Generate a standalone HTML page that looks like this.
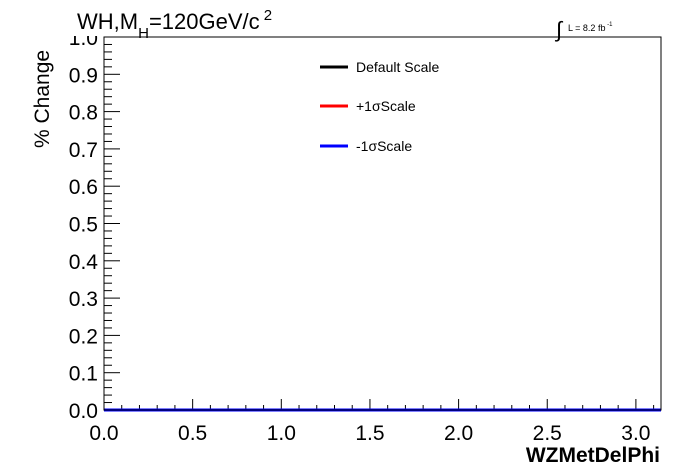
<!DOCTYPE html>
<html><head><meta charset="utf-8"><style>
body{margin:0;background:#fff;}
svg{display:block;font-family:"Liberation Sans",Arial,sans-serif;}
</style></head><body>
<svg id="c" width="696" height="472" viewBox="0 0 696 472">
<rect x="0" y="0" width="696" height="472" fill="#fff"/>
<g id="axes"></g>
<g id="series"></g>
<rect x="104" y="37" width="557" height="373" fill="none" stroke="#000" stroke-width="1"/>
<rect x="60" y="0" width="240" height="36" fill="#fff"/>
<text x="77" y="29" font-size="22">WH,M<tspan font-size="15" dy="9">H</tspan><tspan dy="-9">=120GeV/c</tspan><tspan font-size="15" dy="-9"> 2</tspan></text>
<text x="556" y="37" font-size="22">∫</text>
<text x="568" y="31" font-size="9">L = 8.2 fb<tspan font-size="6" dy="-5"> -1</tspan></text>
<text x="49" y="148" font-size="21" transform="rotate(-90 49 148)" text-anchor="start">% Change</text>
<text x="660" y="462" font-size="21" font-weight="bold" text-anchor="end">WZMetDelPhi</text>
<g>
<line x1="320" y1="67" x2="348" y2="67" stroke="#000" stroke-width="3"/>
<text x="356" y="72" font-size="14">Default Scale</text>
<line x1="320" y1="106" x2="348" y2="106" stroke="#f00" stroke-width="3"/>
<text x="356" y="111" font-size="14">+1σScale</text>
<line x1="320" y1="146" x2="348" y2="146" stroke="#00f" stroke-width="3"/>
<text x="356" y="151" font-size="14">-1σScale</text>
</g>
</svg>
<script>
const xTicks = [0.0, 0.5, 1.0, 1.5, 2.0, 2.5, 3.0];
const xTickLabels = ["0.0","0.5","1.0","1.5","2.0","2.5","3.0"];
const yTicks = [0.0,0.1,0.2,0.3,0.4,0.5,0.6,0.7,0.8,0.9,1.0];
const yTickLabels = ["0.0","0.1","0.2","0.3","0.4","0.5","0.6","0.7","0.8","0.9","1.0"];
const binEdges = [0, 3.1416];
const defaultScale = [0];
const plusScale = [0];
const minusScale = [0];
const X0=104,X1=661,Y0=410,Y1=37,XMAX=3.1416;
const sx=v=>X0+(v/XMAX)*(X1-X0);
const sy=v=>Y0-(v/1.0)*(Y0-Y1);
const NS="http://www.w3.org/2000/svg";
const axes=document.getElementById('axes');
function mk(tag,attrs,parent){const e=document.createElementNS(NS,tag);for(const k in attrs)e.setAttribute(k,attrs[k]);parent.appendChild(e);return e;}
for(let v=0;v<=XMAX+1e-9;v+=0.1){
  const major=Math.abs(v*2-Math.round(v*2))<1e-6;
  const l=mk('line',{x1:sx(v),x2:sx(v),y1:Y0,y2:Y0-(major?11:5),stroke:'#000'},axes);
  
  
}
for(let i=0;i<=50;i++){
  const v=i*0.02;const major=i%5===0;
  const l=mk('line',{x1:X0,x2:X0+(major?16:8),y1:sy(v),y2:sy(v),stroke:'#000'},axes);
  
  
}
xTicks.forEach((v,i)=>{
  const t=mk('text',{x:sx(v),y:440,'font-size':21,'text-anchor':'middle'},axes);
  t.textContent=xTickLabels[i];
  
  
});
yTicks.forEach((v,i)=>{
  const t=mk('text',{x:98,y:sy(v)+8,'font-size':21,'text-anchor':'end'},axes);
  t.textContent=yTickLabels[i];
  
  
});
const ser=document.getElementById('series');
[[defaultScale,'#000','series-default'],[plusScale,'#f00','series-plus'],[minusScale,'#00f','series-minus']].forEach(([vals,col,name])=>{
  let d='';
  vals.forEach((v,i)=>{d+=(i===0?'M':'L')+sx(binEdges[i])+','+sy(v)+'L'+sx(binEdges[i+1])+','+sy(v);});
  const p=mk('path',{d:d,stroke:col,'stroke-width':3,fill:'none'},ser);
  
  
});
</script>
</body></html>
